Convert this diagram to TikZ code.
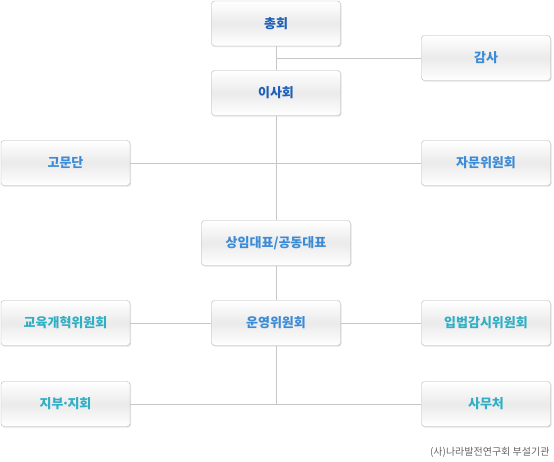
\documentclass[tikz,border=0pt]{standalone}
\usepackage{fontspec}
\setmainfont{Noto Sans CJK KR}
\usetikzlibrary{shadows}

\definecolor{darkblue}{HTML}{1F5FB8}
\definecolor{midblue}{HTML}{3C8BD6}
\definecolor{tealblue}{HTML}{2FAEC4}
\definecolor{linegray}{HTML}{C6C6C6}
\definecolor{boxborder}{HTML}{B4B4B4}

\begin{document}
\begin{tikzpicture}[x=1pt,y=-1pt]

  \tikzstyle{orgbox}=[draw=boxborder, rounded corners=3pt, minimum width=129pt, minimum height=45pt,
    top color=white, bottom color=white, middle color=black!8, inner sep=0pt,
    drop shadow={opacity=0.22, shadow xshift=1pt, shadow yshift=-1.2pt},
    font=\fontsize{13}{15}\selectfont\bfseries]
  \tikzstyle{link}=[draw=linegray, line width=0.8pt]

  \useasboundingbox (0,0) rectangle (554,461);

  % top of the tree
  \node [orgbox, text=darkblue] (chonghoe) at (276,23.5) {총회};
  \node [orgbox, text=darkblue] (isahoe) at (276,93) {이사회};
  \node [orgbox, text=midblue] (gamsa) at (486,58) {감사};

  \node [orgbox, text=midblue] (gomundan) at (65.5,163) {고문단};
  \node [orgbox, text=midblue] (jamun) at (486,163) {자문위원회};

  \node [orgbox, text=midblue, minimum width=149pt] (sangim) at (276,243) {상임대표/공동대표};
  \node [orgbox, text=midblue] (unyoung) at (276,323) {운영위원회};

  % committees
  \node [orgbox, text=tealblue] (gyoyuk) at (65.5,323) {교육개혁위원회};
  \node [orgbox, text=tealblue] (ipbeop) at (486,323) {입법감시위원회};
  \node [orgbox, text=tealblue] (jibu) at (65.5,404) {지부\kern-0.15em·\kern-0.15em지회};
  \node [orgbox, text=tealblue] (samu) at (486,404) {사무처};

  \coordinate (bottomjoin) at (unyoung.south |- jibu.east);

  %%% connectors
  \path [link] (chonghoe.south) -- (isahoe.north);
  \path [link] (gamsa.west) -- (gamsa.west -| chonghoe.south);
  \path [link] (isahoe.south) -- (sangim.north);
  \path [link] (gomundan.east) -- (jamun.west);
  \path [link] (sangim.south) -- (unyoung.north);
  \path [link] (gyoyuk.east) -- (unyoung.west);
  \path [link] (unyoung.east) -- (ipbeop.west);
  \path [link] (unyoung.south) -- (bottomjoin);
  \path [link] (jibu.east) -- (samu.west);

  \node [anchor=east, text=black!60, font=\fontsize{10}{12}\selectfont] (note) at (553,452) {(사)나라발전연구회 부설기관};

\end{tikzpicture}
\end{document}
